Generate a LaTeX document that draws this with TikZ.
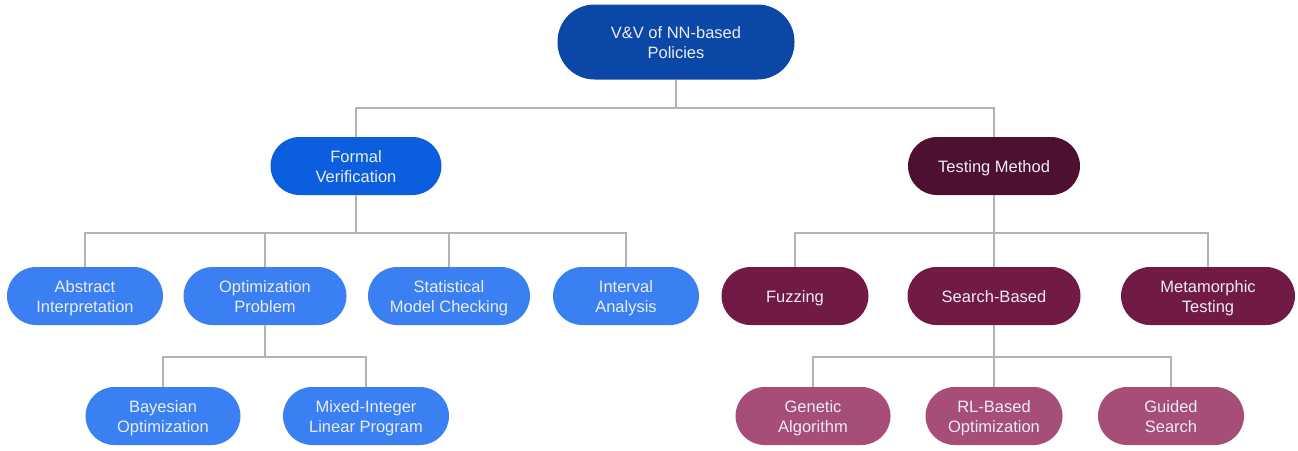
\documentclass[tikz,border=0pt]{standalone}
\usepackage{fontspec}
\setmainfont{Liberation Sans}
\definecolor{rootc}{HTML}{0A47A6}
\definecolor{fvc}{HTML}{0B5FDF}
\definecolor{lblue}{HTML}{3A80F2}
\definecolor{tmc}{HTML}{4E1030}
\definecolor{mroon}{HTML}{721A46}
\definecolor{pinkc}{HTML}{A64D78}
\definecolor{linec}{HTML}{B3B3B3}
\definecolor{txtc}{HTML}{ECECF4}
\newcommand\ls{\rule[-3.5pt]{0pt}{20pt}}
\tikzset{
  pill/.style={rectangle, rounded corners=29pt, minimum height=58pt, inner sep=0pt,
    text=txtc, align=center, font=\fontsize{16.5}{20}\selectfont},
  conn/.style={draw=linec, line width=2pt}
}
\begin{document}
\begin{tikzpicture}[x=1pt,y=-1pt]
\useasboundingbox (0,0) rectangle (1298,450);
\node[pill, fill=rootc, minimum width=237pt, minimum height=75pt, rounded corners=37pt] (root) at (676,42) {\ls V\&V of NN-based\\\ls Policies};
\node[pill, fill=fvc, minimum width=171pt] (fv) at (356,166) {\ls Formal\\\ls Verification};
\node[pill, fill=tmc, minimum width=172pt] (tm) at (994,166) {\ls Testing Method};
\node[pill, fill=lblue, minimum width=156pt] (ai) at (85,296) {\ls Abstract\\\ls Interpretation};
\node[pill, fill=lblue, minimum width=163pt] (op) at (265,296) {\ls Optimization\\\ls Problem};
\node[pill, fill=lblue, minimum width=162pt] (smc) at (449,296) {\ls Statistical\\\ls Model Checking};
\node[pill, fill=lblue, minimum width=146pt] (ia) at (626,296) {\ls Interval\\\ls Analysis};
\node[pill, fill=mroon, minimum width=147pt] (fz) at (795,296) {\ls Fuzzing};
\node[pill, fill=mroon, minimum width=173pt] (sb) at (994,296) {\ls Search-Based};
\node[pill, fill=mroon, minimum width=174pt] (mt) at (1208,296) {\ls Metamorphic\\\ls Testing};
\node[pill, fill=lblue, minimum width=155pt] (bo) at (163,416) {\ls Bayesian\\\ls Optimization};
\node[pill, fill=lblue, minimum width=166pt] (milp) at (366,416) {\ls Mixed-Integer\\\ls Linear Program};
\node[pill, fill=pinkc, minimum width=155pt] (ga) at (813,416) {\ls Genetic\\\ls Algorithm};
\node[pill, fill=pinkc, minimum width=137pt] (rl) at (994,416) {\ls RL-Based\\\ls Optimization};
\node[pill, fill=pinkc, minimum width=146pt] (gs) at (1171,416) {\ls Guided\\\ls Search};
% connectors
\draw[conn] (root.south) -- (root.south |- 0,108);
\draw[conn] (fv.north) -- (fv.north |- 0,108) -| (tm.north);
\draw[conn] (fv.south) -- (fv.south |- 0,233);
\draw[conn] (ai.north) -- (ai.north |- 0,233) -| (ia.north);
\draw[conn] (op.north) -- (op.north |- 0,233);
\draw[conn] (smc.north) -- (smc.north |- 0,233);
\draw[conn] (tm.south) -- (sb.north);
\draw[conn] (fz.north) -- (fz.north |- 0,233) -| (mt.north);
\draw[conn] (op.south) -- (op.south |- 0,357);
\draw[conn] (bo.north) -- (bo.north |- 0,357) -| (milp.north);
\draw[conn] (sb.south) -- (rl.north);
\draw[conn] (ga.north) -- (ga.north |- 0,357) -| (gs.north);
\end{tikzpicture}
\end{document}
